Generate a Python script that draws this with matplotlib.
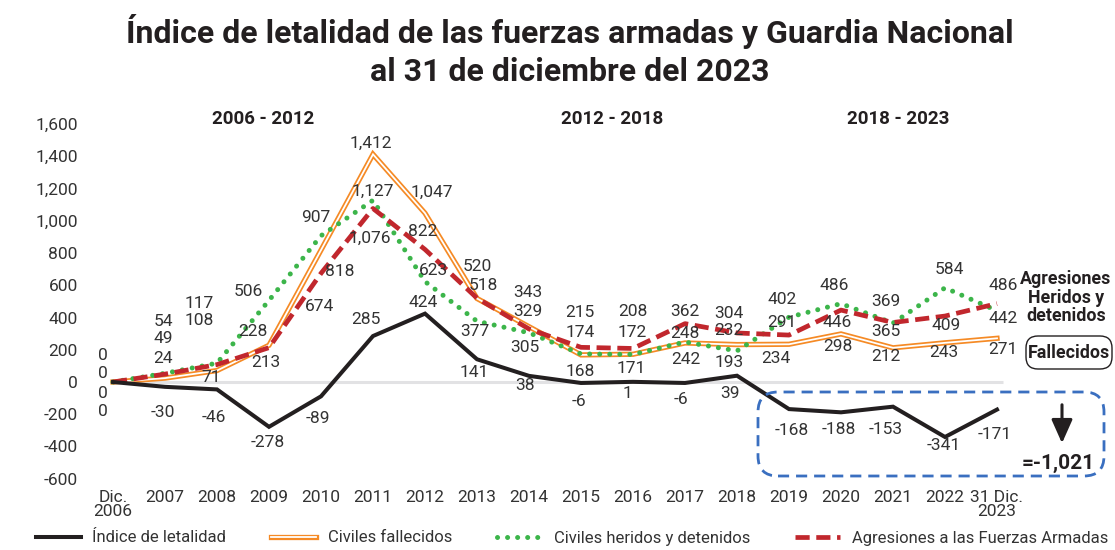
import matplotlib
matplotlib.use("Agg")
import matplotlib.pyplot as plt
from matplotlib import font_manager
from matplotlib.lines import Line2D
from matplotlib.patches import FancyBboxPatch, FancyArrowPatch
from matplotlib.legend_handler import HandlerTuple

# ---------------- data ----------------
years = ["Dic.\n2006", "2007", "2008", "2009", "2010", "2011", "2012", "2013", "2014",
         "2015", "2016", "2017", "2018", "2019", "2020", "2021", "2022", "31 Dic.\n2023"]
indice = [0, -30, -46, -278, -89, 285, 424, 141, 38, -6, 1, -6, 39, -168, -188, -153, -341, -171]
fallecidos = [0, 24, 71, 228, 818, 1412, 1047, 518, 343, 168, 172, 242, 232, 234, 298, 212, 243, 271]
heridos = [0, 54, 117, 506, 907, 1127, 623, 377, 305, 174, 171, 248, 193, 402, 486, 365, 584, 442]
agresiones = [0, 49, 108, 213, 674, 1076, 822, 520, 329, 215, 208, 362, 304, 291, 446, 369, 409, 486]
periodos = ["2006 - 2012", "2012 - 2018", "2018 - 2023"]
total_2019_2023 = "=-1,021"

# ---------------- label offsets (pixels, dy positive = down) ----------------
off_heridos = [(-10, -26), (-2, -52), (-18, -60), (-21, -9), (-5, -18), (0, -9), (8, -11), (-2, 10),
               (-4, 15), (-1, -21), (-2, 14), (0, -9), (-8, 12), (-7, -18), (-7, -18), (-7, 8),
               (4, -18), (6, 8)]
off_agresiones = [(-10, -8), (-2, -36), (-18, -44), (-3, 15), (-2, 33), (-3, 30), (-2, -18), (0, -32),
                  (-1, -17), (-1, -35), (0, -37), (0, -12), (-8, -19), (-7, -13), (-4, 12), (-7, -21),
                  (1, 9), (6, -18)]
off_fallecidos = [(-10, 11), (-2, -20), (-6, 7), (-16, -14), (19, 21), (-2, -11), (7, -21), (6, -13),
                  (-1, -34), (-1, 17), (-1, -22), (1, 17), (-8, -14), (-13, 14), (-3, 13), (-7, 9),
                  (-1, 10), (6, 11)]
off_indice = [(-10, 29), (-2, 26), (-3, 28), (-1, 16), (-3, 22), (-7, -17), (-2, -11), (-3, 13),
              (-4, 10), (-2, 19), (-6, 12), (-4, 17), (-7, 18), (3, 21), (-2, 17), (-7, 23),
              (-1, 9), (-2, 25)]

# ---------------- fonts ----------------
names = {f.name for f in font_manager.fontManager.ttflist}
base_font = "Liberation Sans Narrow" if "Liberation Sans Narrow" in names else "Roboto"
plt.rcParams["font.family"] = [base_font, "DejaVu Sans"]

C_BLACK = "#231f20"
C_ORANGE = "#f58a25"
C_GREEN = "#3cb54a"
C_RED = "#c1272d"
C_BLUE = "#3a6fc0"
C_TEXT = "#333333"

W, H = 1115, 550
fig = plt.figure(figsize=(W / 100, H / 100), dpi=100)

# axes geometry: x index 0 at px 113, 52 px per category; y 0 at px 382, 0.16125 px/unit
ax_left_px, ax_right_px = 100, 1110
ylo, yhi = -600, 1600
y0_px, yscale = 382, 0.16125
ax_bottom_px = y0_px - ylo * yscale
ax_top_px = y0_px - yhi * yscale
ax = fig.add_axes([ax_left_px / W, 1 - ax_bottom_px / H,
                   (ax_right_px - ax_left_px) / W, (ax_bottom_px - ax_top_px) / H])
xl = -(113 - ax_left_px) / 52
ax.set_xlim(xl, xl + (ax_right_px - ax_left_px) / 52)
ax.set_ylim(ylo, yhi)

x = list(range(len(years)))

# zero line
ax.hlines(0, 0, len(years) - 1 + 0.12, color="#e2e2e4", lw=2.2, zorder=1)

# series
ax.plot(x, fallecidos, color=C_ORANGE, lw=3.8, zorder=2, solid_joinstyle="miter")
ax.plot(x, fallecidos, color="white", lw=1.3, zorder=2.1, solid_joinstyle="miter")
ax.plot(x, heridos, color=C_GREEN, lw=3.6, linestyle=(0, (0.01, 2.0)),
        dash_capstyle="round", zorder=3)
ax.plot(x, agresiones, color=C_RED, lw=3.4, linestyle=(0, (3.0, 1.4)), zorder=4)
ax.plot(x, indice, color=C_BLACK, lw=2.9, zorder=5, solid_joinstyle="miter")

LBL = 12.5
def labels(vals, offs):
    for i, (v, (dx, dy)) in enumerate(zip(vals, offs)):
        ax.annotate(f"{v:,}", (i, v), xytext=(dx * 0.72, -dy * 0.72),
                    textcoords="offset points", ha="center", va="center",
                    fontsize=LBL, color=C_TEXT, zorder=6, annotation_clip=False)

labels(heridos, off_heridos)
labels(agresiones, off_agresiones)
labels(fallecidos, off_fallecidos)
labels(indice, off_indice)

# ticks
ax.set_yticks(range(-600, 1601, 200))
ax.set_yticklabels([f"{v:,}" for v in range(-600, 1601, 200)], fontsize=LBL, color=C_TEXT)
ax.set_xticks(x)
ax.set_xticklabels(years, fontsize=LBL, color=C_TEXT, linespacing=0.95, va="top")
ax.tick_params(axis="y", length=0, pad=16)
ax.tick_params(axis="x", length=0, pad=8)
for s in ax.spines.values():
    s.set_visible(False)

def ftext(px, py, s, **kw):
    fig.text(px / W, 1 - py / H, s, **kw)

# title
ftext(570, 43, "Índice de letalidad de las fuerzas armadas y Guardia Nacional",
      ha="center", va="baseline", fontsize=23, fontweight="bold", color=C_BLACK)
ftext(570, 81, "al 31 de diciembre del 2023",
      ha="center", va="baseline", fontsize=23, fontweight="bold", color=C_BLACK)

# period labels
for (px, s) in zip([263, 612, 898], periodos):
    ftext(px, 119, s, ha="center", va="center", fontsize=13.5, fontweight="bold", color=C_BLACK)

# right side labels
for py, s in zip([279, 298, 316], ["Agresiones", "Heridos y", "detenidos"]):
    ftext(1066, py, s, ha="center", va="center", fontsize=12.8, fontweight="bold", color=C_BLACK)
fbox = FancyBboxPatch((10.26, (H - 369) / 100), 0.86, 0.33,
                      boxstyle="round,pad=0,rounding_size=0.12",
                      transform=fig.dpi_scale_trans, fc="white", ec=C_BLACK, lw=1.0)
fig.add_artist(fbox)
ftext(1069, 353, "Fallecidos", ha="center", va="center", fontsize=12.8,
      fontweight="bold", color=C_BLACK)

# blue dashed box
bbox = FancyBboxPatch((7.58, (H - 476) / 100), 11.04 - 7.58, (476 - 392) / 100,
                      boxstyle="round,pad=0,rounding_size=0.2",
                      transform=fig.dpi_scale_trans, fc="none", ec=C_BLUE, lw=2.0,
                      linestyle=(0, (4, 2.5)))
fig.add_artist(bbox)
arr = FancyArrowPatch((10.62, (H - 402) / 100), (10.62, (H - 446) / 100),
                      transform=fig.dpi_scale_trans, arrowstyle="-|>,head_length=0.9,head_width=0.4",
                      mutation_scale=16, lw=2.2, color=C_BLACK)
fig.add_artist(arr)
ftext(1058, 463, total_2019_2023, ha="center", va="center", fontsize=15,
      fontweight="bold", color=C_BLACK)

# legend
LEG = 12
h_ind = Line2D([], [], color=C_BLACK, lw=2.9)
h_fal = (Line2D([], [], color=C_ORANGE, lw=3.8), Line2D([], [], color="white", lw=1.3))
h_her = Line2D([], [], color=C_GREEN, lw=3.6, linestyle=(0, (0.01, 2.0)), dash_capstyle="round")
h_agr = Line2D([], [], color=C_RED, lw=3.4, linestyle=(0, (3.0, 1.4)))
leg = fig.legend([h_ind, h_fal, h_her, h_agr],
                 ["Índice de letalidad", "Civiles fallecidos", "Civiles heridos y detenidos",
                  "Agresiones a las Fuerzas Armadas"],
                 handler_map={tuple: HandlerTuple(ndivide=1, pad=0)},
                 loc="center", bbox_to_anchor=(572 / W, 1 - 538 / H), ncol=4, frameon=False,
                 fontsize=LEG, handlelength=2.7, handletextpad=0.7, columnspacing=2.7,
                 borderaxespad=0, borderpad=0)
for t in leg.get_texts():
    t.set_color(C_TEXT)

fig.savefig("out.png", dpi=100)
